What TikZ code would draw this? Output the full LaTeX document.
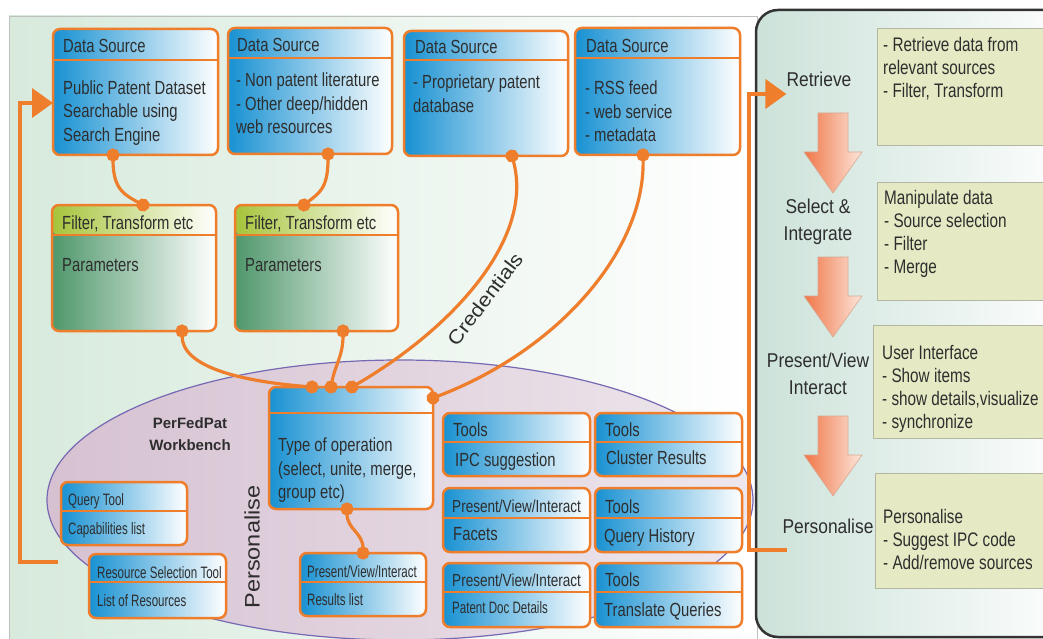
\documentclass[tikz,border=0pt]{standalone}
\usepackage{fontspec}
\setmainfont{Liberation Sans}[FakeStretch=0.78]
\newfontfamily\narrowsans{Liberation Sans}[FakeStretch=0.7]
\newfontfamily\stagesans{Liberation Sans}[FakeStretch=0.87]
\newfontfamily\widesans{Liberation Sans}[FakeStretch=1.12]
\newfontfamily\plainsans{Liberation Sans}
\usepackage{xcolor}
\usepackage{tikz}
\usetikzlibrary{arrows.meta}

\definecolor{boxorange}{HTML}{EE7E2C}
\definecolor{dsblue}{HTML}{1891D2}
\definecolor{fltyel}{HTML}{A6C43A}
\definecolor{fltgreen}{HTML}{4F976B}
\definecolor{wbpurple}{HTML}{D6C1D1}
\definecolor{wbpale}{HTML}{EEE7ED}
\definecolor{wbline}{HTML}{7668B2}
\definecolor{leftbg}{HTML}{D7EADC}
\definecolor{rightbg}{HTML}{CCE2D9}
\definecolor{notefill}{HTML}{E5EAC4}
\definecolor{noteline}{HTML}{B3B7A0}
\definecolor{arrowL}{HTML}{F07648}
\definecolor{arrowR}{HTML}{FCE6DA}
\definecolor{arrowE}{HTML}{D8A890}
\definecolor{txt}{HTML}{2E2E2E}

\tikzset{
  box/.style={draw=boxorange, line width=2.5pt, rounded corners=7pt, inner sep=0pt, outer sep=0pt,
    anchor=north west, left color=dsblue, middle color=dsblue!62!white, right color=white},
  hdr/.style 2 args={path picture={
    \shade[left color=#1, right color=white] (path picture bounding box.north west) rectangle ([yshift=-#2pt]path picture bounding box.north east);
    \draw[boxorange, line width=2.5pt] ([yshift=-#2pt]path picture bounding box.north west) -- ([yshift=-#2pt]path picture bounding box.north east);}},
  big/.style={font=\fontsize{19}{23.5}\selectfont, text=txt, inner sep=0pt, align=left},
  mid/.style={font=\fontsize{17.4}{20}\selectfont, text=txt, inner sep=0pt},
  small/.style={font=\narrowsans\fontsize{16.5}{20}\selectfont, text=txt, inner sep=0pt},
  link/.style={draw=boxorange, line width=3.2pt, {Circle[length=13pt]}-{Circle[length=13pt]},
    shorten <=-6.5pt, shorten >=-6.5pt},
  loopline/.style={draw=boxorange, line width=4pt, -{Triangle[length=21pt,width=29pt]}},
  downarrow/.style={draw=arrowE, line width=0.6pt, left color=arrowL, right color=arrowR},
  stage/.style={font=\stagesans\fontsize{20}{27}\selectfont, text=txt, align=center, inner sep=0pt},
  note/.style={draw=noteline, line width=1pt, fill=notefill, anchor=north west, minimum width=200pt, inner sep=0pt},
  notetext/.style={font=\fontsize{19.6}{23}\selectfont, text=txt, inner sep=0pt, align=left, anchor=north west},
}

\begin{document}
\begin{tikzpicture}[x=1pt, y=-1pt]
	\useasboundingbox (0,0) rectangle (1043,639);
	\draw[black!25, line width=0.8pt, left color=leftbg, right color=white] (9,16) rectangle (757,660);
	\draw[black!80, line width=2.5pt, rounded corners=22pt, left color=rightbg, right color=white] (756,10) rectangle (1085,637);
	\draw[wbline, line width=1.2pt, left color=wbpurple, right color=wbpale] (400,500) ellipse [x radius=353, y radius=140];

	% data sources
	\node[box, hdr={dsblue}{31}, minimum width=165pt, minimum height=126pt] (ds1) at (53,29) {};
	\node[big, anchor=base west] (ds1t) at ([xshift=10,yshift=-24]ds1.north west) {Data Source};
	\node[big, anchor=north west] (ds1b) at ([xshift=10,yshift=-51.5]ds1.north west) {Public Patent Dataset\\Searchable using\\Search Engine};
	\node[box, hdr={dsblue}{30}, minimum width=164pt, minimum height=126pt] (ds2) at (228,28) {};
	\node[big, anchor=base west] (ds2t) at ([xshift=9,yshift=-24]ds2.north west) {Data Source};
	\node[big, anchor=north west] (ds2b) at ([xshift=8,yshift=-45]ds2.north west) {- Non patent literature\\- Other deep/hidden\\web resources};
	\node[box, hdr={dsblue}{29}, minimum width=164pt, minimum height=125pt] (ds3) at (404,31) {};
	\node[big, anchor=base west] (ds3t) at ([xshift=11,yshift=-23]ds3.north west) {Data Source};
	\node[big, anchor=north west] (ds3b) at ([xshift=9,yshift=-44]ds3.north west) {- Proprietary patent\\database};
	\node[box, hdr={dsblue}{30}, minimum width=165pt, minimum height=127pt] (ds4) at (575,28) {};
	\node[big, anchor=base west] (ds4t) at ([xshift=11,yshift=-25]ds4.north west) {Data Source};
	\node[big, anchor=north west] (ds4b) at ([xshift=10,yshift=-53]ds4.north west) {- RSS feed\\- web service\\- metadata};

	% filters
	\node[box, left color=fltgreen, middle color=fltgreen!68!white, right color=white, hdr={fltyel}{30}, minimum width=164pt, minimum height=126pt] (f1) at (52,205) {};
	\node[big, anchor=base west] (f1t) at ([xshift=10,yshift=-24]f1.north west) {Filter, Transform etc};
	\node[big, anchor=base west] (f1b) at ([xshift=10,yshift=-66]f1.north west) {Parameters};
	\node[box, left color=fltgreen, middle color=fltgreen!68!white, right color=white, hdr={fltyel}{30}, minimum width=163pt, minimum height=126pt] (f2) at (235,205) {};
	\node[big, anchor=base west] (f2t) at ([xshift=10,yshift=-24]f2.north west) {Filter, Transform etc};
	\node[big, anchor=base west] (f2b) at ([xshift=10,yshift=-66]f2.north west) {Parameters};

	% workbench
	\node[font=\plainsans\bfseries\fontsize{15}{22}\selectfont, text=txt, align=center] (wb) at (190,434) {PerFedPat\\Workbench};
	\node[rotate=90, font=\widesans\fontsize{21}{21}\selectfont, text=txt] (pers) at (252,547) {Personalise};
	\node[box, hdr={dsblue}{26}, minimum width=164pt, minimum height=122pt] (op) at (269,387) {};
	\node[big, anchor=north west] (opb) at ([xshift=9,yshift=-51]op.north west) {Type of operation\\(select, unite, merge,\\group etc)};
	\node[box, hdr={dsblue}{29}, minimum width=126pt, minimum height=63pt] (res) at (300,553) {};
	\node[small, anchor=base west] (rest) at ([xshift=7,yshift=-24]res.north west) {Present/View/Interact};
	\node[small, anchor=base west] (resb) at ([xshift=7,yshift=-52]res.north west) {Results list};
	\node[box, hdr={dsblue}{29}, minimum width=126pt, minimum height=63pt] (qt) at (61,482) {};
	\node[small, anchor=base west] (qtt) at ([xshift=7,yshift=-23]qt.north west) {Query Tool};
	\node[small, anchor=base west] (qtb) at ([xshift=7,yshift=-52]qt.north west) {Capabilities list};
	\node[box, hdr={dsblue}{28}, minimum width=137pt, minimum height=64pt] (rs) at (89,554) {};
	\node[small, anchor=base west] (rst) at ([xshift=8,yshift=-24]rs.north west) {Resource Selection Tool};
	\node[small, anchor=base west] (rsb) at ([xshift=8,yshift=-52]rs.north west) {List of Resources};

	% tools
	\node[box, hdr={dsblue}{29}, minimum width=147pt, minimum height=63pt] (t11) at (443,413) {};
	\node[big, anchor=base west] (t11t) at ([xshift=10,yshift=-23]t11.north west) {Tools};
	\node[big, anchor=base west] (t11b) at ([xshift=12,yshift=-53]t11.north west) {IPC suggestion};
	\node[box, hdr={dsblue}{29}, minimum width=147pt, minimum height=63pt] (t12) at (595,413) {};
	\node[big, anchor=base west] (t12t) at ([xshift=10,yshift=-23]t12.north west) {Tools};
	\node[big, anchor=base west] (t12b) at ([xshift=11,yshift=-51]t12.north west) {Cluster Results};
	\node[box, hdr={dsblue}{30}, minimum width=147pt, minimum height=64pt] (t21) at (443,488) {};
	\node[mid, anchor=base west] (t21t) at ([xshift=9,yshift=-24]t21.north west) {Present/View/Interact};
	\node[big, anchor=base west] (t21b) at ([xshift=10,yshift=-52]t21.north west) {Facets};
	\node[box, hdr={dsblue}{30}, minimum width=147pt, minimum height=64pt] (t22) at (595,488) {};
	\node[big, anchor=base west] (t22t) at ([xshift=10,yshift=-25]t22.north west) {Tools};
	\node[big, anchor=base west] (t22b) at ([xshift=9,yshift=-54]t22.north west) {Query History};
	\node[box, hdr={dsblue}{29}, minimum width=147pt, minimum height=64pt] (t31) at (443,563) {};
	\node[mid, anchor=base west] (t31t) at ([xshift=9,yshift=-23]t31.north west) {Present/View/Interact};
	\node[small, anchor=base west] (t31b) at ([xshift=9,yshift=-50]t31.north west) {Patent Doc Details};
	\node[box, hdr={dsblue}{29}, minimum width=147pt, minimum height=64pt] (t32) at (595,563) {};
	\node[big, anchor=base west] (t32t) at ([xshift=10,yshift=-23]t32.north west) {Tools};
	\node[big, anchor=base west] (t32b) at ([xshift=9,yshift=-53]t32.north west) {Translate Queries};

	% connectors
	\draw[link] ([xshift=60]ds1.south west) .. controls +(0,35) and +(-18,-10) .. ([xshift=91]f1.north west);
	\draw[link] ([xshift=100]ds2.south west) .. controls +(0,35) and +(15,-12) .. ([xshift=69]f2.north west);
	\draw[link] ([xshift=130]f1.south west) .. controls +(0,35) and +(-75,-6) .. ([xshift=43]op.north west);
	\draw[link] ([xshift=108]f2.south west) .. controls +(0,25) and +(4,-22) .. ([xshift=62]op.north west);
	\draw[link] ([xshift=108]ds3.south west) .. controls +(23,84) and +(98,-57) .. ([xshift=83]op.north west);
	\draw[link] ([xshift=68]ds4.south west) .. controls +(2,95) and +(126,-48) .. ([yshift=-11]op.north east);
	\draw[link] ([xshift=78]op.south west) .. controls +(0,20) and +(0,-20) .. ([xshift=63]res.north west);
	\node[rotate=52.6, font=\widesans\fontsize{19.5}{20}\selectfont, text=txt] (cred) at (485,299) {Credentials};

	% process column
	\node[stage] (retr) at (819,79) {Retrieve};
	\node[stage] (sel) at (818,222) {Select \&\\Integrate};
	\node[stage] (pvi) at (818,374) {Present/View\\Interact};
	\node[stage] (pstage) at (828,526) {Personalise};
	\draw[downarrow] (818,113) -- ++(30,0) -- ++(0,39) -- ++(14,0) -- ++(-29,41) -- ++(-29,-41) -- ++(14,0) -- cycle;
	\draw[downarrow] (818,257) -- ++(30,0) -- ++(0,39) -- ++(14,0) -- ++(-29,41) -- ++(-29,-41) -- ++(14,0) -- cycle;
	\draw[downarrow] (818,416) -- ++(30,0) -- ++(0,39) -- ++(14,0) -- ++(-29,41) -- ++(-29,-41) -- ++(14,0) -- cycle;

	\node[note, minimum height=117pt] (rb1) at (877,28) {};
	\node[notetext] (rb1t) at ([xshift=6,yshift=-9.5]rb1.north west) {- Retrieve data from\\relevant sources\\- Filter, Transform};
	\node[note, minimum height=118pt] (rb2) at (877,182) {};
	\node[notetext] (rb2t) at ([xshift=7,yshift=-8.5]rb2.north west) {Manipulate data\\- Source selection\\- Filter\\- Merge};
	\node[note, minimum height=113pt] (rb3) at (873,325) {};
	\node[notetext] (rb3t) at ([xshift=9,yshift=-20.5]rb3.north west) {User Interface\\- Show items\\- show details,visualize\\- synchronize};
	\node[note, minimum height=115pt] (rb4) at (875,473) {};
	\node[notetext] (rb4t) at ([xshift=8,yshift=-36.5]rb4.north west) {Personalise\\- Suggest IPC code\\- Add/remove sources};

	% feedback loops
	\coordinate (backL) at (58,562);
	\coordinate (backR) at (787,550);
	\draw[loopline] (backL) -- (20,562) |- ([yshift=-11]ds1.west);
	\draw[loopline] (backR) -- (749,550) |- ([yshift=-15]retr.west);
\end{tikzpicture}
\end{document}
